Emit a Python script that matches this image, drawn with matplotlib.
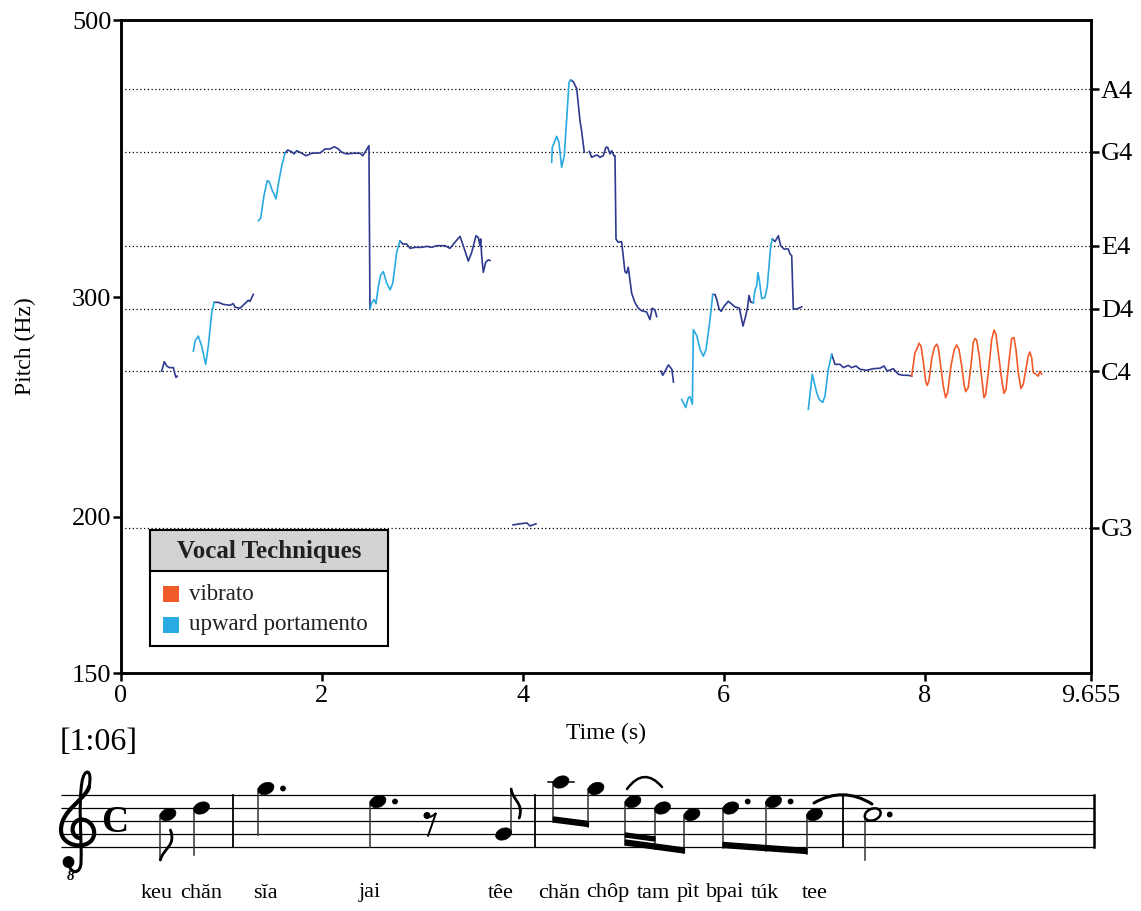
import numpy as np
import matplotlib.pyplot as plt
from matplotlib.patches import Ellipse, Rectangle, Polygon, PathPatch, Circle
from matplotlib.path import Path
from matplotlib.ticker import NullLocator

nan = np.nan

# ---- pitch contour (time in s, pitch in Hz), nan = break
plain_t = [0.405, 0.431, 0.455, 0.481, 0.521, 0.537, 0.547, 0.560, nan,
           0.926, 0.968, 1.018, 1.085, 1.118, 1.135, 1.185, 1.224, 1.267, 1.284, 1.317, nan,
           1.632, 1.659, 1.699, 1.722, 1.749, 1.799, 1.842, 1.899, 1.982, 2.032, 2.081, 2.123,
           2.163, 2.197, 2.246, 2.312, 2.379, 2.406, 2.429, 2.452, 2.468, 2.478, nan,
           2.777, 2.804, 2.844, 2.877, 2.927, 2.993, 3.043, 3.093, 3.142, 3.225, 3.274, 3.324,
           3.374, 3.407, 3.457, 3.491, 3.533, 3.556, 3.573, 3.580, 3.590, 3.606, 3.630, 3.656, 3.673, nan,
           3.902, 3.972, 4.041, 4.071, 4.131, nan,
           4.476, 4.502, 4.536, 4.569, 4.585, 4.611, nan,
           4.661, 4.685, 4.718, 4.741, 4.767, 4.800, 4.827, 4.844, 4.867, 4.884, 4.907, 4.917,
           4.927, 4.949, 4.983, 5.016, 5.033, 5.049, 5.083, 5.116, 5.149, 5.183, 5.232, 5.265,
           5.288, 5.315, 5.332, nan,
           5.373, 5.393, 5.416, 5.449, 5.483, 5.499, nan,
           5.890, 5.913, 5.930, 5.953, 5.973, 6.002, 6.045, 6.112, 6.154, 6.171, 6.191, 6.218,
           6.238, 6.251, 6.268, 6.294, nan,
           6.483, 6.510, 6.543, 6.566, 6.599, 6.642, 6.659, 6.676, 6.692, 6.726, 6.775, nan,
           7.074, 7.107, 7.157, 7.190, 7.239, 7.273, 7.316, 7.356, 7.422, 7.488, 7.555, 7.594,
           7.627, 7.687, 7.737, 7.786, 7.836, 7.870]
plain_f = [261.7, 266.3, 264.2, 263.4, 263.4, 260.2, 258.7, 259.3, nan,
           297.1, 297.1, 296.0, 295.5, 296.4, 294.4, 293.9, 295.9, 298.2, 297.6, 301.5, nan,
           391.1, 393.4, 392.2, 390.6, 392.9, 391.1, 389.3, 391.1, 391.3, 394.2, 394.2, 395.8,
           394.2, 391.8, 390.6, 391.1, 391.1, 389.3, 391.8, 394.7, 396.6, 293.5, nan,
           332.8, 330.8, 330.8, 328.2, 328.8, 328.8, 329.4, 328.8, 329.8, 329.8, 328.2, 331.9,
           335.5, 329.8, 320.6, 325.8, 335.9, 334.9, 329.8, 333.9, 323.8, 314.0, 319.9, 321.3, 320.9, nan,
           197.1, 197.5, 197.8, 196.7, 197.5, nan,
           447.6, 446.2, 440.6, 415.0, 407.4, 391.9, nan,
           392.4, 388.2, 389.3, 389.8, 388.2, 389.3, 395.4, 395.4, 390.6, 392.9, 389.3, 389.3,
           333.9, 331.9, 332.3, 314.4, 313.5, 317.0, 302.1, 296.9, 293.9, 292.5, 291.9, 287.8,
           293.9, 292.9, 289.4, nan,
           261.7, 259.7, 261.7, 264.7, 262.6, 256.5, nan,
           301.4, 301.4, 298.6, 293.5, 292.2, 294.9, 297.7, 294.6, 294.0, 289.7, 284.4, 289.7,
           294.9, 300.9, 297.2, 296.9, nan,
           333.9, 332.3, 335.9, 329.8, 327.8, 327.8, 324.8, 323.8, 293.5, 293.5, 294.6, nan,
           269.9, 265.0, 265.0, 263.4, 264.5, 263.4, 264.2, 262.6, 262.1, 262.9, 263.1, 264.2,
           261.7, 262.9, 260.2, 259.7, 259.7, 259.3]

port_t = [0.720, 0.737, 0.769, 0.803, 0.843, 0.869, 0.903, 0.926, nan,
          1.367, 1.390, 1.423, 1.456, 1.476, 1.506, 1.523, 1.543, 1.566, 1.600, 1.632, nan,
          2.478, 2.495, 2.518, 2.538, 2.561, 2.585, 2.611, 2.645, 2.678, 2.705, 2.744, 2.777, nan,
          4.287, 4.293, 4.337, 4.359, 4.386, 4.412, 4.436, 4.459, 4.476, nan,
          5.581, 5.621, 5.647, 5.664, 5.687, 5.697, 5.731, 5.764, 5.796, 5.823, 5.863, 5.890, nan,
          6.294, 6.311, 6.327, 6.340, 6.353, 6.377, 6.410, 6.433, 6.467, 6.483, nan,
          6.841, 6.881, 6.924, 6.950, 6.984, 7.007, 7.040, 7.074]
port_f = [271.6, 276.6, 279.2, 274.1, 265.0, 274.1, 291.4, 297.1, nan,
          345.3, 346.9, 361.7, 371.8, 371.1, 365.0, 362.8, 359.5, 369.5, 382.2, 391.1, nan,
          293.5, 296.8, 298.6, 296.4, 305.8, 312.5, 314.4, 307.8, 304.0, 307.8, 325.8, 332.8, nan,
          384.6, 395.4, 403.5, 399.1, 381.1, 389.3, 416.3, 445.5, 447.6, nan,
          248.4, 244.7, 249.2, 249.6, 246.2, 282.5, 279.4, 272.3, 269.0, 272.3, 287.8, 301.4, nan,
          296.9, 304.2, 306.1, 313.8, 309.8, 299.1, 299.7, 306.1, 329.8, 333.9, nan,
          243.9, 260.2, 251.6, 248.4, 247.0, 249.9, 262.6, 269.9]

vib_t = [7.870, 7.903, 7.920, 7.943, 7.963, 7.985, 8.009, 8.025, 8.042, 8.069, 8.095, 8.119,
         8.135, 8.159, 8.185, 8.208, 8.228, 8.261, 8.294, 8.318, 8.341, 8.368, 8.394, 8.408,
         8.433, 8.460, 8.483, 8.500, 8.517, 8.543, 8.567, 8.590, 8.607, 8.633, 8.667, 8.690,
         8.709, 8.732, 8.766, 8.789, 8.809, 8.841, 8.865, 8.888, 8.908, 8.931, 8.958, 8.981,
         9.007, 9.030, 9.047, 9.064, 9.080, 9.107, 9.130, 9.147, 9.164]
vib_f = [259.3, 270.8, 272.4, 275.5, 274.1, 266.6, 257.0, 254.9, 257.0, 267.5, 273.3, 275.0,
         273.3, 264.2, 254.6, 249.2, 251.5, 264.2, 272.4, 274.6, 272.4, 264.2, 254.6, 252.0,
         253.9, 264.2, 275.8, 277.9, 277.1, 269.1, 258.6, 249.2, 250.7, 261.0, 277.5, 282.3,
         280.1, 270.8, 257.8, 251.2, 253.1, 267.5, 277.9, 278.4, 272.4, 261.0, 253.4, 255.4,
         262.6, 269.1, 271.1, 268.3, 261.0, 260.2, 259.3, 261.7, 260.2]

note_names = ['G3', 'C4', 'D4', 'E4', 'G4', 'A4']
note_hz = [196.0, 261.63, 293.66, 329.63, 392.0, 440.0]
y_ticks = [150, 200, 300, 500]
x_ticks = [0, 2, 4, 6, 8, 9.655]
x_tick_labels = ['0', '2', '4', '6', '8', '9.655']
legend_labels = ['vibrato', 'upward portamento']

# ---- transcription: staff steps above the bottom line (E) and lyrics
score_steps = [5, 6, 9, 7, 2, 10, 9, 7, 6, 5, 6, 7, 5, 5]
lyric_words = ['keu', 'chăn', 'sĭa', 'jai', 'têe', 'chăn', 'chôp', 'tam', 'pìt',
               'bpai', 'túk', 'tee']
time_mark = '[1:06]'

# layout of the score (pixels)
note_x = [168, 201.5, 266, 378, 503.6, 561, 596, 633, 662.5, 692, 730.7, 773.6, 814.5, 872.7]
stem_end = [860, 855, 835, 847, 789, 822, 826.5, 845, 849, 853, 847.5, 850.5, 853.5, 860]
dotted = [2, 3, 10, 11, 13]
lyric_x = [157, 201, 265, 370, 501, 559, 608, 653, 688, 725, 765, 815]

DARK = '#2e3a8f'
LIGHT = '#29aae1'
ORANGE = '#f15a29'
SERIF = 'Liberation Serif'
plt.rcParams['font.family'] = [SERIF, 'DejaVu Sans']

W, H = 1141, 911
fig = plt.figure(figsize=(W / 100, H / 100), dpi=100)

# full-figure pixel axes for the score
ax_s = fig.add_axes([0, 0, 1, 1], zorder=0)
ax_s.set_xlim(0, W)
ax_s.set_ylim(H, 0)
ax_s.axis('off')

ax = fig.add_axes([121 / W, 1 - 673 / H, 970 / W, 653 / H], zorder=1)
ax.set_yscale('log')
ax.set_xlim(0, 9.655)
ax.set_ylim(150, 500)

ax.hlines(note_hz, 0, 9.655, colors='black', linestyles=(0, (1, 2)), lw=0.9)
ax.plot(plain_t, plain_f, color=DARK, lw=1.2)
ax.plot(port_t, port_f, color=LIGHT, lw=1.2)
ax.plot(vib_t, vib_f, color=ORANGE, lw=1.2)

ax.set_yticks(y_ticks)
ax.set_yticklabels([str(v) for v in y_ticks])
ax.yaxis.set_minor_locator(NullLocator())
ax.set_xticks(x_ticks)
ax.set_xticklabels(x_tick_labels)
ax.tick_params(axis='both', direction='out', length=6, width=1.8, labelsize=19)
ax.tick_params(axis='y', pad=1)
ax.tick_params(axis='x', pad=3)
for sp in ax.spines.values():
    sp.set_linewidth(1.8)

ax_r = ax.twinx()
ax_r.set_yscale('log')
ax_r.set_ylim(150, 500)
ax_r.set_yticks(note_hz)
ax_r.set_yticklabels(note_names)
ax_r.yaxis.set_minor_locator(NullLocator())
ax_r.tick_params(axis='y', direction='out', length=6, width=1.8, labelsize=19, pad=1)
for sp in ax_r.spines.values():
    sp.set_linewidth(1.8)

fig.text(606 / W, 1 - 733 / H, 'Time (s)', ha='center', va='center', fontsize=17)
fig.text(25 / W, 1 - 346 / H, 'Pitch (Hz)', ha='center', va='center', rotation=90,
         fontsize=17)

# legend box drawn by hand
T = ax.transAxes
ax.add_patch(Rectangle((0.0299, 0.0413), 0.2453, 0.1777, transform=T,
                       facecolor='white', edgecolor='black', lw=1.5, zorder=5))
ax.add_patch(Rectangle((0.0299, 0.1562), 0.2453, 0.0628, transform=T,
                       facecolor='#d1d3d4', edgecolor='black', lw=1.5, zorder=6))
ax.text(0.1526, 0.1858, 'Vocal Techniques', transform=T, ha='center', va='center',
        fontsize=18, fontweight='bold', color='#231f20', zorder=7)
for lab, col, y0 in zip(legend_labels, [ORANGE, LIGHT], [0.1083, 0.0617]):
    ax.add_patch(Rectangle((0.0436, y0), 0.0165, 0.0245, transform=T,
                           facecolor=col, edgecolor='none', zorder=7))
    ax.text(0.0704, y0 + 0.0122, lab, transform=T, ha='left', va='center',
            fontsize=16.5, color='#231f20', zorder=7)

# ---- score
BOT = 847.0
STEP = 6.5


def step_y(s):
    return BOT - s * STEP


for k in range(5):
    y = BOT - 2 * STEP * k
    ax_s.plot([61, 1094], [y, y], color='black', lw=0.9, solid_capstyle='butt')
for bx, lw in [(232.7, 1.3), (535, 1.3), (842.7, 1.3), (1094, 1.8)]:
    ax_s.plot([bx, bx], [BOT - 8 * STEP, BOT], color='black', lw=lw)

ax_s.text(60, 742, time_mark, ha='left', va='center', fontsize=23)

C4 = Path.CURVE4
C3 = Path.CURVE3
MV = Path.MOVETO


def curve(verts, codes, lw):
    ax_s.add_patch(PathPatch(Path(verts, codes), facecolor='none', edgecolor='black',
                             lw=lw, zorder=3, capstyle='round'))


# treble clef: no installed font has the glyph, so it is drawn as a path
curve([(69, 864), (70, 874), (81, 875), (81, 862),
       (82, 840), (78, 805), (82, 782),
       (84, 768), (93, 768), (89, 787)],
      [MV, C4, C4, C4, C4, C4, C4, C4, C4, C4], 2.2)
curve([(89, 787), (85, 800), (61, 810), (61, 830),
       (61, 848), (91, 851), (94, 835),
       (96, 822), (80, 814), (74, 824),
       (70, 831), (75, 838), (80, 838)],
      [MV, C4, C4, C4, C4, C4, C4, C4, C4, C4, C4, C4, C4], 3.0)
ax_s.add_patch(Circle((68.5, 862), 5.2, color='black', zorder=3))
ax_s.text(71, 876, '8', ha='center', va='center', fontsize=11, style='italic',
          fontweight='bold')
ax_s.text(115, 822, 'C', ha='center', va='center', fontsize=27, fontweight='bold')

for i, (x, s) in enumerate(zip(note_x, score_steps)):
    y = step_y(s)
    hollow = i == len(note_x) - 1
    ax_s.add_patch(Ellipse((x, y), 16.5, 11.5, angle=-22,
                           facecolor='white' if hollow else 'black',
                           edgecolor='black', lw=1.8 if hollow else 0.5, zorder=3))
    up = stem_end[i] < y
    sx = x + 7.6 if up else x - 7.6
    ax_s.plot([sx, sx], [y, stem_end[i]], color='#333333', lw=1.1, zorder=2)
    if i in dotted:
        dy = y if s % 2 == 1 else y - STEP
        ax_s.add_patch(Circle((x + 17, dy), 2.2, color='black'))
    if s >= 10:
        ax_s.plot([x - 13, x + 13], [y, y], color='black', lw=1.1)


def stem_x(i):
    return note_x[i] + 7.6 if stem_end[i] < step_y(score_steps[i]) else note_x[i] - 7.6


def beam(i, j, off=0.0, thick=5.0):
    x0, x1 = stem_x(i), stem_x(j)
    y0, y1 = stem_end[i] - off, stem_end[j] - off
    ax_s.add_patch(Polygon([(x0, y0), (x1, y1), (x1, y1 - thick), (x0, y0 - thick)],
                           closed=True, color='black', zorder=3))


beam(5, 6)
beam(7, 9)
y8 = stem_end[7] + (stem_end[9] - stem_end[7]) * (stem_x(8) - stem_x(7)) / (stem_x(9) - stem_x(7))
x0, x1 = stem_x(7), stem_x(8)
ax_s.add_patch(Polygon([(x0, stem_end[7] - 8), (x1, y8 - 8), (x1, y8 - 12), (x0, stem_end[7] - 12)],
                       closed=True, color='black', zorder=3))
beam(10, 12)

# flags
fx = stem_x(0)
curve([(fx, 860), (fx + 3, 848), (fx + 16, 846), (fx + 10, 830)], [MV, C4, C4, C4], 2.0)
fx = stem_x(4)
curve([(fx, 789), (fx + 1, 800), (fx + 13, 803), (fx + 8, 818)], [MV, C4, C4, C4], 2.0)
# eighth rest
ax_s.add_patch(Circle((427, 815.5), 2.8, color='black'))
curve([(427, 817), (431, 818), (436, 813), (428, 836)], [MV, C3, C3, Path.LINETO], 1.4)
# slur and tie
curve([(627, 789), (644, 766), (662, 787)], [MV, C3, C3], 1.8)
curve([(814, 803), (843, 786), (872, 804)], [MV, C3, C3], 2.2)

for w, x in zip(lyric_words, lyric_x):
    ax_s.text(x, 893, w, ha='center', va='center', fontsize=16)

fig.savefig('out.png', dpi=100)
